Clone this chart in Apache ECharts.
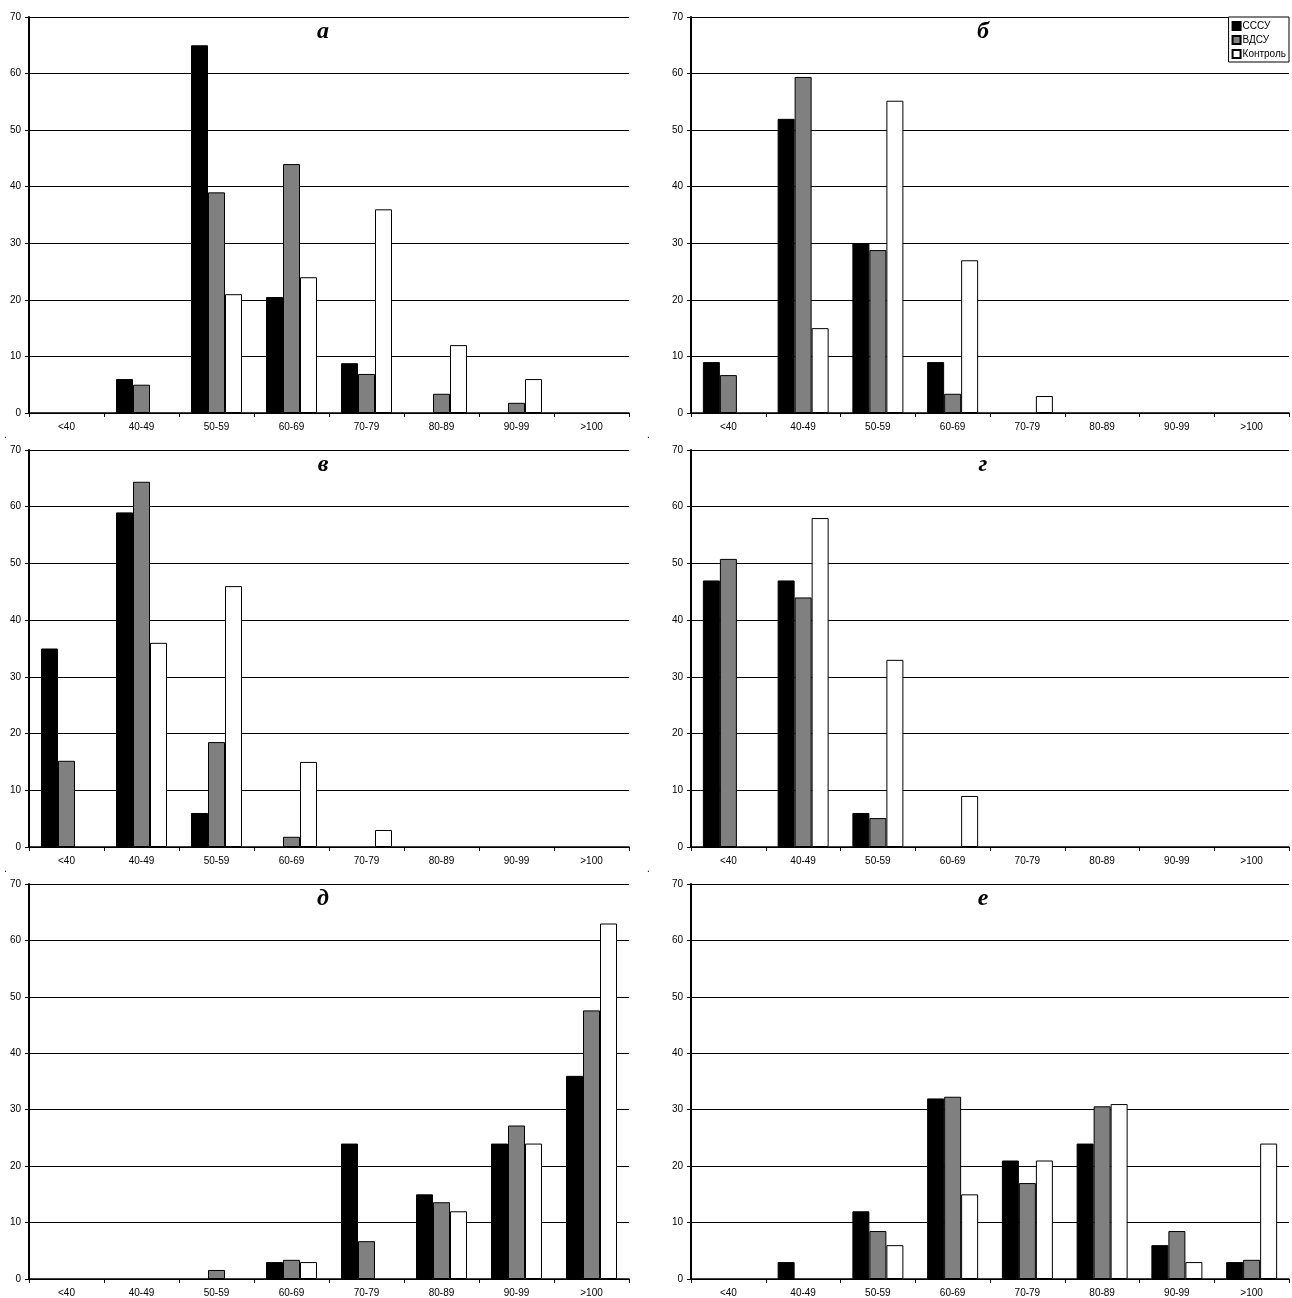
<!DOCTYPE html>
<html>
<head>
<meta charset="utf-8">
<script src="https://cdn.jsdelivr.net/npm/echarts@6/dist/echarts.min.js"></script>
<style>html,body{margin:0;padding:0;background:#fff}#c{width:1292px;height:1298px}</style>
</head>
<body>
<div id="c"></div>
<script>
var categories = ['<40','40-49','50-59','60-69','70-79','80-89','90-99','>100'];
var seriesNames = ['СССУ','ВДСУ','Контроль'];
var panelTitles = ['а','б','в','г','д','е'];

var a_sssu    = [0, 6, 65, 20.5, 8.8, 0, 0, 0];
var a_vdsu    = [0, 5, 39, 44, 6.9, 3.4, 1.8, 0];
var a_control = [0, 0, 21, 24, 36, 12, 6, 0];

var b_sssu    = [9, 52, 30, 9, 0, 0, 0, 0];
var b_vdsu    = [6.7, 59.4, 28.8, 3.4, 0, 0, 0, 0];
var b_control = [0, 15, 55.2, 27, 3, 0, 0, 0];

var v_sssu    = [35, 59, 6, 0, 0, 0, 0, 0];
var v_vdsu    = [15.2, 64.4, 18.5, 1.8, 0, 0, 0, 0];
var v_control = [0, 36, 46, 15, 3, 0, 0, 0];

var g_sssu    = [47, 47, 6, 0, 0, 0, 0, 0];
var g_vdsu    = [50.8, 44, 5.1, 0, 0, 0, 0, 0];
var g_control = [0, 58, 33, 9, 0, 0, 0, 0];

var d_sssu    = [0, 0, 0, 3, 24, 15, 24, 36];
var d_vdsu    = [0, 0, 1.6, 3.4, 6.7, 13.6, 27.2, 47.6];
var d_control = [0, 0, 0, 3, 0, 12, 24, 63];

var e_sssu    = [0, 3, 12, 32, 21, 24, 6, 3];
var e_vdsu    = [0, 0, 8.5, 32.3, 17, 30.6, 8.5, 3.4];
var e_control = [0, 0, 6, 15, 21, 31, 3, 24];

var yTicks = [0, 10, 20, 30, 40, 50, 60, 70];

var panels = [
  [a_sssu, a_vdsu, a_control],
  [b_sssu, b_vdsu, b_control],
  [v_sssu, v_vdsu, v_control],
  [g_sssu, g_vdsu, g_control],
  [d_sssu, d_vdsu, d_control],
  [e_sssu, e_vdsu, e_control]
];

var colors = ['#000000', '#808080', '#ffffff'];
var lefts = [29, 691];
var widths = [600, 598];
var tops = [17, 450, 884];
var heights = [396, 397, 396];

var grids = [], xAxes = [], yAxes = [], series = [], titles = [];
for (var i = 0; i < 6; i++) {
  var col = i % 2, row = Math.floor(i / 2);
  grids.push({left: lefts[col], width: widths[col], top: tops[row], height: heights[row], containLabel: false});
  xAxes.push({
    type: 'category', gridIndex: i, data: categories, boundaryGap: true,
    axisLine: {lineStyle: {color: '#000', width: 1.5}},
    axisTick: {show: true, length: 4, lineStyle: {color: '#000'}},
    axisLabel: {color: '#000', fontFamily: 'Liberation Sans, Arial', fontSize: 10, margin: 9}
  });
  yAxes.push({
    type: 'value', gridIndex: i, min: yTicks[0], max: yTicks[yTicks.length - 1], interval: 10,
    axisLine: {show: true, lineStyle: {color: '#000', width: 2}},
    axisTick: {show: true, length: 4, lineStyle: {color: '#000'}},
    axisLabel: {color: '#000', fontFamily: 'Liberation Sans, Arial', fontSize: 10, margin: 8},
    splitLine: {show: true, lineStyle: {color: '#000', width: 1}}
  });
  for (var s = 0; s < 3; s++) {
    series.push({
      type: 'bar', name: seriesNames[s], xAxisIndex: i, yAxisIndex: i,
      data: panels[i][s].map(function (v) { return v === 0 ? {value: 0, itemStyle: {borderWidth: 0}} : v; }),
      barWidth: 17, barGap: '0%',
      itemStyle: {color: colors[s], borderColor: '#000', borderWidth: 1},
      animation: false
    });
  }
  titles.push({
    text: panelTitles[i],
    left: (col === 0 ? 318 : 978), top: tops[row] - 2, textAlign: 'center',
    textStyle: {fontFamily: 'Liberation Serif, Times New Roman', fontStyle: 'italic', fontWeight: 'bold', fontSize: 24, color: '#000'}
  });
}

var chart = echarts.init(document.getElementById('c'), null, {renderer: 'canvas'});
chart.setOption({
  animation: false,
  backgroundColor: '#fff',
  title: titles,
  grid: grids,
  xAxis: xAxes,
  yAxis: yAxes,
  legend: {
    data: seriesNames, orient: 'vertical', right: 3, top: 17,
    itemWidth: 8, itemHeight: 8, itemGap: 4, icon: 'rect',
    backgroundColor: '#fff', borderColor: '#000', borderWidth: 1,
    padding: [4, 3, 3, 3],
    textStyle: {fontFamily: 'Liberation Sans, Arial', fontSize: 10, color: '#000', padding: [0, 0, 0, -3]}
  },
  graphic: [
    {type: 'text', left: 4, top: 430, style: {text: '.', fontSize: 10, fill: '#000'}},
    {type: 'text', left: 647, top: 430, style: {text: '.', fontSize: 10, fill: '#000'}},
    {type: 'text', left: 4, top: 864, style: {text: '.', fontSize: 10, fill: '#000'}},
    {type: 'text', left: 647, top: 864, style: {text: '.', fontSize: 10, fill: '#000'}}
  ],
  series: series
});
</script>
</body>
</html>
